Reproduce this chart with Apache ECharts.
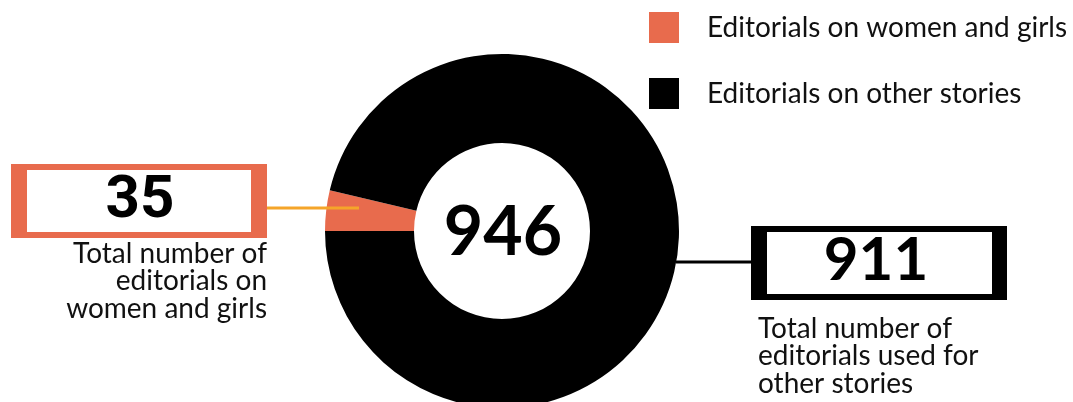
<!DOCTYPE html>
<html>
<head>
<meta charset="utf-8">
<style>
  html, body { margin: 0; padding: 0; background: #ffffff; }
  #chart { width: 1073px; height: 402px; }
</style>
<script src="https://cdn.jsdelivr.net/npm/echarts@6/dist/echarts.min.js"></script>
</head>
<body>
<div id="chart"></div>
<script>
// Editorial counts by topic
const categories = ['Editorials on women and girls', 'Editorials on other stories'];
const values = [35, 911];
const colors = ['#E86B4D', '#000000'];
const captions = [
  ['Total number of', 'editorials on', 'women and girls'],
  ['Total number of', 'editorials used for', 'other stories']
];

const total = values.reduce((a, b) => a + b, 0);
const FONT = 'Lato, "DejaVu Sans", sans-serif';

const chart = echarts.init(document.getElementById('chart'), null, { renderer: 'canvas' });

chart.setOption({
  animation: false,
  backgroundColor: '#ffffff',
  legend: {
    orient: 'vertical',
    left: 644,
    top: 7,
    itemWidth: 30,
    itemHeight: 31,
    itemGap: 35,
    icon: 'rect',
    selectedMode: false,
    textStyle: {
      fontFamily: FONT,
      fontSize: 28,
      color: '#111111',
      padding: [0, 0, 0, 23]
    },
    data: categories
  },
  series: [{
    type: 'pie',
    center: [502, 231],
    radius: [88, 177],
    startAngle: 180,
    clockwise: true,
    silent: true,
    z: 2,
    label: { show: false },
    labelLine: { show: false },
    itemStyle: { borderWidth: 0 },
    data: categories.map((name, i) => ({
      name,
      value: values[i],
      itemStyle: { color: colors[i] }
    }))
  }],
  graphic: [
    // centre total
    {
      type: 'text', x: 503, y: 233, z: 10,
      style: {
        text: String(total), font: 'bold 68px ' + FONT,
        fill: '#000', align: 'center', verticalAlign: 'middle'
      }
    },
    // leader line to the women-and-girls box
    {
      type: 'line', z: 10,
      shape: { x1: 252, y1: 208, x2: 359, y2: 208 },
      style: { stroke: '#F5A52A', lineWidth: 3 }
    },
    { type: 'rect', z: 10, shape: { x: 11, y: 164, width: 256, height: 74 }, style: { fill: colors[0] } },
    { type: 'rect', z: 11, shape: { x: 27, y: 170, width: 224, height: 62 }, style: { fill: '#fff' } },
    {
      type: 'text', x: 140, y: 202, z: 12,
      style: {
        text: String(values[0]), font: 'bold 60px Roboto, ' + FONT,
        fill: '#000', align: 'center', verticalAlign: 'middle'
      }
    },
    {
      type: 'text', x: 267, y: 240, z: 10,
      style: {
        text: captions[0].join('\n'), font: '28px ' + FONT, lineHeight: 27.5,
        fill: '#111', align: 'right', verticalAlign: 'top'
      }
    },
    // leader line to the other-stories box
    {
      type: 'line', z: 10,
      shape: { x1: 676, y1: 262, x2: 752, y2: 262 },
      style: { stroke: '#000', lineWidth: 3 }
    },
    { type: 'rect', z: 10, shape: { x: 751, y: 226, width: 256, height: 74 }, style: { fill: colors[1] } },
    { type: 'rect', z: 11, shape: { x: 767, y: 232, width: 225, height: 62 }, style: { fill: '#fff' } },
    {
      type: 'text', x: 876, y: 261, z: 12,
      style: {
        text: String(values[1]), font: 'bold 60px ' + FONT,
        fill: '#000', align: 'center', verticalAlign: 'middle'
      }
    },
    {
      type: 'text', x: 758, y: 315, z: 10,
      style: {
        text: captions[1].join('\n'), font: '28px ' + FONT, lineHeight: 27.5,
        fill: '#111', align: 'left', verticalAlign: 'top'
      }
    }
  ]
});
</script>
</body>
</html>
